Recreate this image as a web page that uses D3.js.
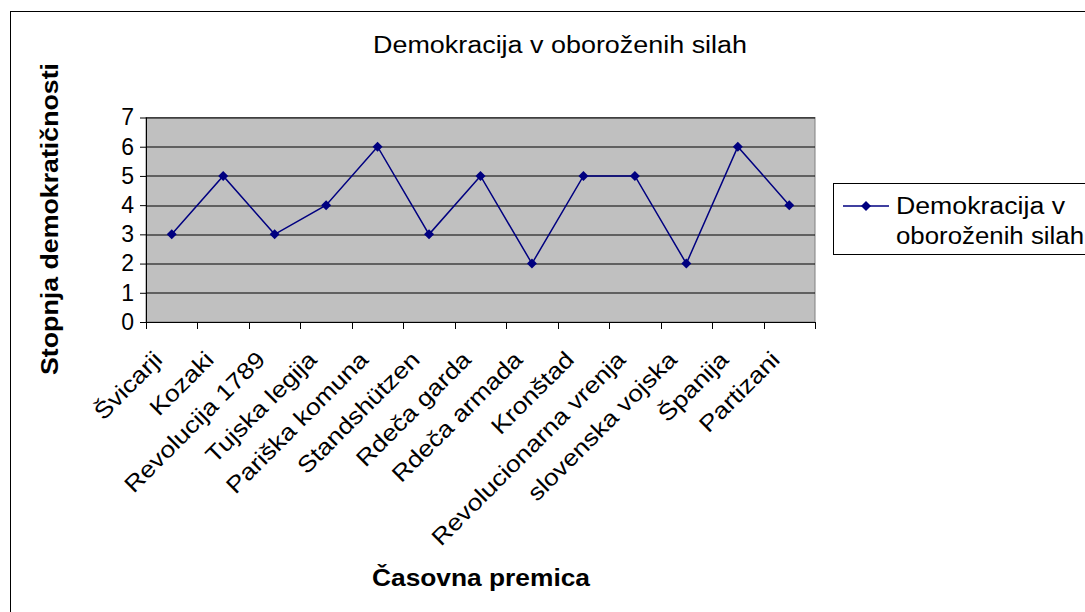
<!DOCTYPE html>
<html>
<head>
<meta charset="utf-8">
<script src="https://cdn.jsdelivr.net/npm/d3@7"></script>
<style>
  body { margin: 0; background: #fff; }
  text { font-family: "Liberation Sans", Arial, sans-serif; }
</style>
</head>
<body>
<div id="chart"></div>
<script>
// data
const categories = ["Švicarji", "Kozaki", "Revolucija 1789", "Tujska legija", "Pariška komuna",
  "Standshützen", "Rdeča garda", "Rdeča armada", "Kronštad", "Revolucionarna vrenja",
  "slovenska vojska", "Španija", "Partizani"]
const values = [3, 5, 3, 4, 6, 3, 5, 2, 5, 5, 2, 6, 4]
const yTicks = [0, 1, 2, 3, 4, 5, 6, 7]
const seriesName = ["Demokracija v", "oboroženih silah"]
const chartTitle = "Demokracija v oboroženih silah"
const xTitle = "Časovna premica"
const yTitle = "Stopnja demokratičnosti"

const dataset = categories.map((c, i) => ({ cat: c, val: values[i] }))
const xAccessor = d => d.cat
const yAccessor = d => d.val

let dimensions = {
  width: 1085,
  height: 612,
  margin: { top: 117.5, right: 270, bottom: 290, left: 146 },
}
dimensions.boundedWidth = dimensions.width - dimensions.margin.left - dimensions.margin.right
dimensions.boundedHeight = dimensions.height - dimensions.margin.top - dimensions.margin.bottom

const navy = "#000080"

const wrapper = d3.select("#chart").append("svg")
  .attr("width", dimensions.width)
  .attr("height", dimensions.height)

// outer chart border (runs off the right and bottom edges)
wrapper.append("rect")
  .attr("x", 10.5).attr("y", 11.5)
  .attr("width", 1100).attr("height", 700)
  .attr("fill", "#fff").attr("stroke", "#000").attr("stroke-width", 1)

wrapper.append("text")
  .attr("x", 373).attr("y", 53)
  .attr("textLength", 374).attr("lengthAdjust", "spacingAndGlyphs")
  .style("font-size", "23px")
  .text(chartTitle)

const bounds = wrapper.append("g")
  .attr("transform", `translate(${dimensions.margin.left},${dimensions.margin.top})`)

// scales
const xScale = d3.scaleBand()
  .domain(categories)
  .range([0, dimensions.boundedWidth])

const yScale = d3.scaleLinear()
  .domain([0, 7])
  .range([dimensions.boundedHeight, 0])

// plot area
bounds.append("rect")
  .attr("width", dimensions.boundedWidth)
  .attr("height", dimensions.boundedHeight)
  .attr("fill", "#c0c0c0")
  .attr("stroke", "#808080")

// gridlines
bounds.append("g").selectAll("line")
  .data(yTicks.slice(1))
  .join("line")
    .attr("x1", 0).attr("x2", dimensions.boundedWidth)
    .attr("y1", d => Math.round(yScale(d)) + 0.5)
    .attr("y2", d => Math.round(yScale(d)) + 0.5)
    .attr("stroke", "#000")

// y axis
const yAxis = bounds.append("g")
  .call(d3.axisLeft(yScale).tickValues(yTicks).tickSize(6).tickPadding(6).tickFormat(d3.format("d")))
yAxis.select(".domain").attr("d", `M0.5,${dimensions.boundedHeight}V0`)
yAxis.selectAll("text").style("font-size", "23px").attr("fill", "#000")

// x axis: ticks at category boundaries
const xAxis = bounds.append("g")
  .attr("transform", `translate(0,${dimensions.boundedHeight})`)
xAxis.append("line")
  .attr("x1", 0).attr("x2", dimensions.boundedWidth)
  .attr("y1", 0.5).attr("y2", 0.5)
  .attr("stroke", "#000")
xAxis.selectAll(".tick")
  .data(categories.concat([null]))
  .join("line")
    .attr("x1", (d, i) => Math.round(i * xScale.step()) + 0.5)
    .attr("x2", (d, i) => Math.round(i * xScale.step()) + 0.5)
    .attr("y1", 0).attr("y2", 7)
    .attr("stroke", "#000")
xAxis.selectAll(".lbl")
  .data(categories)
  .join("text")
    .attr("text-anchor", "end")
    .attr("transform", d => `translate(${xScale(d) + xScale.bandwidth() / 2 - 8},${39}) rotate(-45) scale(1.15,1)`)
    .style("font-size", "23px")
    .text(d => d)

// axis titles
wrapper.append("text")
  .attr("transform", `translate(58,${219}) rotate(-90)`)
  .attr("text-anchor", "middle")
  .attr("textLength", 312).attr("lengthAdjust", "spacingAndGlyphs")
  .style("font-size", "24px").style("font-weight", "bold")
  .text(yTitle)

wrapper.append("text")
  .attr("x", 372).attr("y", 586)
  .attr("textLength", 218).attr("lengthAdjust", "spacingAndGlyphs")
  .style("font-size", "24px").style("font-weight", "bold")
  .text(xTitle)

// line and markers
const lineGenerator = d3.line()
  .x(d => xScale(xAccessor(d)) + xScale.bandwidth() / 2)
  .y(d => yScale(yAccessor(d)))

bounds.append("path")
  .attr("d", lineGenerator(dataset))
  .attr("fill", "none")
  .attr("stroke", navy)
  .attr("stroke-width", 1.5)

const diamond = d3.symbol().type(d3.symbolDiamond2).size(64)
bounds.selectAll(".pt")
  .data(dataset)
  .join("path")
    .attr("d", diamond)
    .attr("transform", d => `translate(${xScale(xAccessor(d)) + xScale.bandwidth() / 2},${yScale(yAccessor(d))})`)
    .attr("fill", navy)

// legend
const legendWidths = [169, 188]
const legend = wrapper.append("g")
legend.append("rect")
  .attr("x", 833.5).attr("y", 183.5)
  .attr("width", 300).attr("height", 71)
  .attr("fill", "#fff").attr("stroke", "#000")
legend.append("line")
  .attr("x1", 843).attr("x2", 889).attr("y1", 206).attr("y2", 206)
  .attr("stroke", navy).attr("stroke-width", 1.5)
legend.append("path")
  .attr("d", diamond)
  .attr("transform", "translate(866,206)")
  .attr("fill", navy)
legend.selectAll(".lt")
  .data(seriesName)
  .join("text")
    .attr("x", 896)
    .attr("y", (d, i) => 214 + i * 30)
    .attr("textLength", (d, i) => legendWidths[i]).attr("lengthAdjust", "spacingAndGlyphs")
    .style("font-size", "23px")
    .text(d => d)
</script>
</body>
</html>
